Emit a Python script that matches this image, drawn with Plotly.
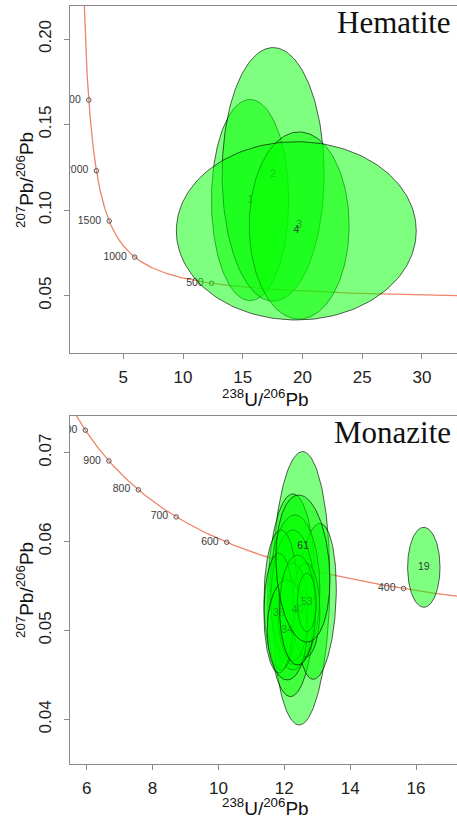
import numpy as np
import plotly.graph_objects as go

# ---------------- data ----------------
# decay constants (per Ma) and U ratio used for the Tera-Wasserburg concordia
L238 = 1.55125e-4
L235 = 9.8485e-4
U85 = 137.818

# concordia age ticks shown on each panel (Ma)
hem_ages = [500, 1000, 1500, 2000, 2500]
mon_ages = [400, 500, 600, 700, 800, 900, 1000]

# Hematite error ellipses: centre x (238U/206Pb), centre y (207Pb/206Pb), half-widths, correlation
hem_labels = ["1", "2", "3", "4"]
hem_x = [15.61, 17.54, 19.72, 19.48]
hem_y = [0.1059, 0.1209, 0.0910, 0.0879]
hem_sx = [3.23, 4.27, 4.18, 10.04]
hem_sy = [0.0588, 0.0741, 0.0547, 0.0521]
hem_rho = [0.0, 0.0, 0.0, 0.0]
hem_lx = [15.61, 17.54, 19.72, 19.48]
hem_ly = [0.1059, 0.1209, 0.0910, 0.0879]

# Monazite error ellipses (drawn in this order); label "" = label hidden
mon_labels = ["", "", "", "", "", "", "", "", "36", "34", "40", "19", "53", "61"]
mon_x = [12.504, 12.222, 12.980, 12.322, 12.261, 11.900, 12.655, 12.264, 11.836, 12.088, 12.404, 16.237, 12.686, 12.565]
mon_y = [0.05475, 0.05396, 0.05328, 0.05456, 0.05343, 0.05343, 0.05231, 0.05208, 0.05197, 0.05006, 0.05231, 0.05711, 0.05315, 0.05697]
mon_sx = [0.880, 0.728, 0.600, 0.759, 0.668, 0.516, 0.425, 0.455, 0.455, 0.607, 0.546, 0.492, 0.288, 0.819]
mon_sy = [0.01538, 0.0114, 0.00877, 0.00844, 0.00787, 0.00787, 0.00529, 0.0055, 0.00675, 0.00562, 0.00619, 0.0045, 0.00328, 0.00827]
mon_rho = [0.06, 0.05, 0.17, 0.0, 0.0, 0.0, 0.0, 0.0, 0.0, 0.0, 0.0, 0.0, 0.0, -0.15]
mon_lx = [12.504, 12.222, 12.980, 12.322, 12.261, 11.900, 12.655, 12.264, 11.836, 12.088, 12.404, 16.237, 12.686, 12.574]
mon_ly = [0.05475, 0.05396, 0.05328, 0.05456, 0.05343, 0.05343, 0.05231, 0.05208, 0.05197, 0.05006, 0.05231, 0.05711, 0.05315, 0.05943]

# axis ticks
hem_xticks = [5, 10, 15, 20, 25, 30]
hem_yticks = [0.05, 0.10, 0.15, 0.20]
hem_yticktext = ["0.05", "0.10", "0.15", "0.20"]
mon_xticks = [6, 8, 10, 12, 14, 16]
mon_yticks = [0.04, 0.05, 0.06, 0.07]
mon_yticktext = ["0.04", "0.05", "0.06", "0.07"]

# ---------------- helpers ----------------
def tw(t):
    e8 = np.exp(L238 * np.asarray(t, dtype=float)) - 1
    e5 = np.exp(L235 * np.asarray(t, dtype=float)) - 1
    return 1 / e8, e5 / e8 / U85


def ellipse(cx, cy, sx, sy, rho, n=180):
    a = np.linspace(0, 2 * np.pi, n)
    x = cx + sx * np.cos(a)
    y = cy + sy * (rho * np.cos(a) + np.sqrt(1 - rho ** 2) * np.sin(a))
    return x, y


W, H = 457, 823
L_M = 70
FILL = "rgba(0,255,0,0.5)"
EDGE = "rgba(0,0,0,0.7)"
CONC = "rgb(238,132,106)"
LABF = dict(family="Liberation Sans, Arial, sans-serif", size=10.5, color="#3a3a3a")

fig = go.Figure()


def add_panel(xa, ya, ages, lab, ex, ey, esx, esy, erho, lx, ly):
    t = np.linspace(120, 4500, 1500)
    cx, cy = tw(t)
    fig.add_trace(go.Scatter(x=cx, y=cy, mode="lines", line=dict(color=CONC, width=1.3),
                             xaxis=xa, yaxis=ya, hoverinfo="skip", showlegend=False))
    axx, axy = tw(ages)
    fig.add_trace(go.Scatter(x=axx, y=axy, mode="markers+text",
                             text=[str(a) + "\u2009\u2009" for a in ages],
                             textposition="middle left", textfont=LABF,
                             marker=dict(symbol="circle-open", size=4.5, color="#555", line=dict(width=1)),
                             cliponaxis=True, xaxis=xa, yaxis=ya, hoverinfo="skip", showlegend=False))
    for i in range(len(ex)):
        x, y = ellipse(ex[i], ey[i], esx[i], esy[i], erho[i])
        fig.add_trace(go.Scatter(x=x, y=y, mode="lines", fill="toself", fillcolor=FILL,
                                 line=dict(color=EDGE, width=0.9), xaxis=xa, yaxis=ya,
                                 hoverinfo="skip", showlegend=False))
        if lab[i]:
            fig.add_trace(go.Scatter(x=[lx[i]], y=[ly[i]], mode="text", text=[lab[i]],
                                     textposition="middle center", textfont=LABF,
                                     xaxis=xa, yaxis=ya, hoverinfo="skip", showlegend=False))


add_panel("x", "y", hem_ages, hem_labels, hem_x, hem_y, hem_sx, hem_sy, hem_rho, hem_lx, hem_ly)
add_panel("x2", "y2", mon_ages, mon_labels, mon_x, mon_y, mon_sx, mon_sy, mon_rho, mon_lx, mon_ly)

TICKF = dict(family="Liberation Sans, Arial, sans-serif", size=17, color="#222")
common = dict(showline=True, linecolor="#888", linewidth=1.2, ticks="outside", ticklen=5,
              tickcolor="#888", tickwidth=1.2, showgrid=False, zeroline=False, tickfont=TICKF,
              automargin=False)


def py2paper(py):
    return 1 - py / H


top_dom = [py2paper(353), py2paper(6)]
bot_dom = [py2paper(764), py2paper(416)]

fig.update_layout(
    width=W, height=H, margin=dict(l=L_M, r=0, t=0, b=0),
    paper_bgcolor="white", plot_bgcolor="white", showlegend=False,
    xaxis=dict(domain=[0, 1], anchor="y", range=[0.539, 32.93], tickvals=hem_xticks,
               mirror=True, ticklabelstandoff=3, **common),
    yaxis=dict(domain=top_dom, anchor="x", range=[0.0165, 0.2193], tickvals=hem_yticks,
               ticktext=hem_yticktext, tickangle=-90, ticklabelstandoff=6, **common),
    xaxis2=dict(domain=[0, 1], anchor="y2", range=[5.493, 17.245], tickvals=mon_xticks,
                mirror=True, ticklabelstandoff=3, **common),
    yaxis2=dict(domain=bot_dom, anchor="x2", range=[0.03498, 0.07413], tickvals=mon_yticks,
                ticktext=mon_yticktext, tickangle=-90, ticklabelstandoff=6, **common),
)

TITF = dict(family="Liberation Sans, Arial, sans-serif", size=19, color="#111")
PW = W - L_M


def pxx(px):
    return (px - L_M) / PW


ann = [
    dict(text="Hematite", x=pxx(453), y=py2paper(22), xanchor="right", yanchor="middle",
         font=dict(family="Liberation Serif, Times New Roman, serif", size=31, color="#111")),
    dict(text="Monazite", x=pxx(453), y=py2paper(432), xanchor="right", yanchor="middle",
         font=dict(family="Liberation Serif, Times New Roman, serif", size=31, color="#111")),
    dict(text="<sup>207</sup>Pb/<sup>206</sup>Pb", x=pxx(25), y=py2paper(180), textangle=-90,
         xanchor="center", yanchor="middle", font=TITF),
    dict(text="<sup>207</sup>Pb/<sup>206</sup>Pb", x=pxx(25), y=py2paper(590), textangle=-90,
         xanchor="center", yanchor="middle", font=TITF),
    dict(text="<sup>238</sup>U/<sup>206</sup>Pb", x=pxx(265), y=py2paper(398),
         xanchor="center", yanchor="middle", font=TITF),
    dict(text="<sup>238</sup>U/<sup>206</sup>Pb", x=pxx(265), y=py2paper(807),
         xanchor="center", yanchor="middle", font=TITF),
]
for a in ann:
    a.update(xref="paper", yref="paper", showarrow=False)
fig.update_layout(annotations=ann)

fig.write_html("out.html")
